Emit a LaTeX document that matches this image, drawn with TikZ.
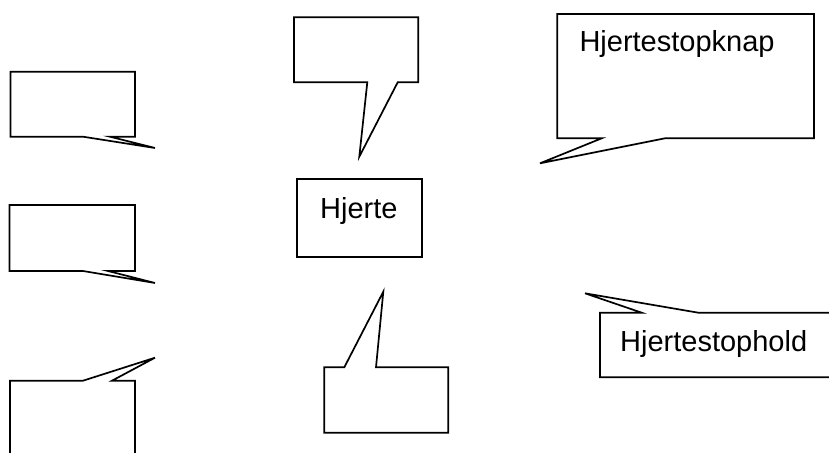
\documentclass[tikz,border=0pt]{standalone}
\usepackage{fontspec}
\setmainfont{Liberation Sans}
\usetikzlibrary{positioning}
\tikzstyle{Boble}=[rectangle, draw=none, inner sep=0pt, outer sep=0pt, anchor=north west]
\tikzstyle{Kasse}=[rectangle, draw, line width=1.7, inner sep=0pt, outer sep=0pt, anchor=north west]
\tikzstyle{Kant}=[line width=1.7, line join=miter]
\tikzstyle{Tekst}=[font=\fontsize{29}{35}\selectfont, inner sep=0pt, anchor=base west]

\begin{document}
\begin{tikzpicture}[x=1pt, y=-1pt]
	\useasboundingbox (0,0) rectangle (829,452);
	\clip (0,0) rectangle (829,452);

	%Bobler
	\node[Boble, minimum width=124.5pt, minimum height=65pt]	(boble1)	at (10.5,71.7)	{};
	\node[Boble, minimum width=125.5pt, minimum height=66pt]	(boble2)	at (9.5,205)	{};
	\node[Boble, minimum width=125pt, minimum height=90pt]	(boble3)	at (10,380.7)	{};
	\node[Boble, minimum width=124.3pt, minimum height=65pt]	(boble4)	at (294,17.3)	{};
	\node[Boble, minimum width=124pt, minimum height=65.4pt]	(boble5)	at (324.3,367.3)	{};
	\node[Boble, minimum width=256.7pt, minimum height=124.3pt]	(boble6)	at (557.3,14)	{};
	\node[Boble, minimum width=240pt, minimum height=64.6pt]	(boble7)	at (600,312.7)	{};

	\node[Kasse, minimum width=124.4pt, minimum height=78pt]	(hjerte)	at (297.3,179.3)	{};

	%Spidser
	\coordinate (spids1) at (155,148);
	\coordinate (spids2) at (155,283);
	\coordinate (spids3) at (155,357.7);
	\coordinate (spids4) at (359.3,156.7);
	\coordinate (spids5) at (383.3,291.7);
	\coordinate (spids6) at (540,163.3);
	\coordinate (spids7) at (585,293.3);

	%Tekster
	\node[Tekst]	(hjerte_tekst)	at (320,218)		{Hjerte};
	\node[Tekst]	(knap_tekst)	at (579.3,51.7)	{Hjertestopknap};
	\node[Tekst]	(hold_tekst)	at (620,351.7)	{Hjertestophold};

	%Kanter
	\draw[Kant] (boble1.north west) -- (boble1.north east) -- (boble1.south east) -- (110,136.7) -- (spids1) -- (83,136.7) -- (boble1.south west) -- cycle;
	\draw[Kant] (boble2.north west) -- (boble2.north east) -- (boble2.south east) -- (108,271) -- (spids2) -- (83,271) -- (boble2.south west) -- cycle;
	\draw[Kant] (boble3.north west) -- (83,380.7) -- (spids3) -- (112,380.7) -- (boble3.north east) -- (boble3.south east) -- (boble3.south west) -- cycle;
	\draw[Kant] (boble4.north west) -- (boble4.north east) -- (boble4.south east) -- (397.7,82.3) -- (spids4) -- (367.3,82.3) -- (boble4.south west) -- cycle;
	\draw[Kant] (boble5.north west) -- (344.3,367.3) -- (spids5) -- (376,367.3) -- (boble5.north east) -- (boble5.south east) -- (boble5.south west) -- cycle;
	\draw[Kant] (boble6.north west) -- (boble6.north east) -- (boble6.south east) -- (665,138.3) -- (spids6) -- (601.7,138.3) -- (boble6.south west) -- cycle;
	\draw[Kant] (boble7.north west) -- (641.7,312.7) -- (spids7) -- (698.3,312.7) -- (boble7.north east) -- (boble7.south east) -- (boble7.south west) -- cycle;

\end{tikzpicture}
\end{document}
